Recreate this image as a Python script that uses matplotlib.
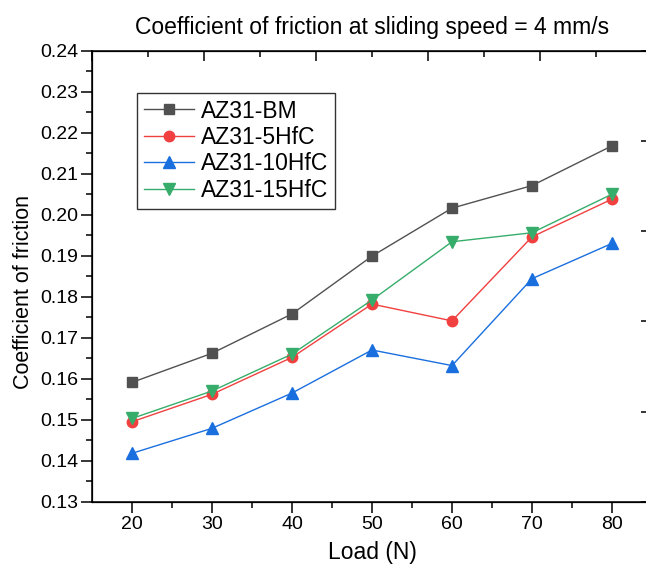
import numpy as np
import matplotlib
matplotlib.use('Agg')
import matplotlib.pyplot as plt

plt.rcParams['font.family'] = ['Liberation Sans', 'DejaVu Sans']

load = [20, 30, 40, 50, 60, 70, 80]

cof_bm = [0.1591, 0.1662, 0.1758, 0.1899, 0.2016, 0.2071, 0.2168]
cof_5hfc = [0.1495, 0.1562, 0.1652, 0.1782, 0.1741, 0.1946, 0.2038]
cof_10hfc = [0.1418, 0.1479, 0.1565, 0.1670, 0.1632, 0.1844, 0.1930]
cof_15hfc = [0.1503, 0.1570, 0.1660, 0.1792, 0.1934, 0.1956, 0.2050]

series = [
    ('AZ31-BM', cof_bm, '#515151', 's', 6.5),
    ('AZ31-5HfC', cof_5hfc, '#F14040', 'o', 7.5),
    ('AZ31-10HfC', cof_10hfc, '#1A6FDF', '^', 8.5),
    ('AZ31-15HfC', cof_15hfc, '#37AD6B', 'v', 8.5),
]

W, H = 646, 573
fig = plt.figure(figsize=(W / 100, H / 100), dpi=100)
# right spine sits just past the canvas edge
ax = fig.add_axes([92 / W, 1 - 501.7 / H, 560 / W, 451 / H])

for name, vals, col, mk, ms in series:
    ax.plot(load, vals, color=col, marker=mk, markersize=ms, lw=1.0,
            label=name)

ax.set_xlim(15, 85)
ax.set_ylim(0.13, 0.24)
ax.set_xticks(load)
ax.set_xticks(np.arange(25, 85, 10), minor=True)
ax.set_yticks(np.arange(0.13, 0.2401, 0.01))
ax.set_yticks(np.arange(0.135, 0.24, 0.01), minor=True)
ax.set_yticklabels([f'{v:.2f}' for v in np.arange(0.13, 0.2401, 0.01)])
ax.tick_params(which='major', direction='out', length=8, width=1.1,
               labelsize=14, pad=2, top=False, right=False)
ax.tick_params(which='minor', direction='out', length=4, width=1.1,
               top=False, right=False)
for s in ax.spines.values():
    s.set_linewidth(1.1)

ax.set_xlabel('Load (N)', fontsize=16.5, labelpad=6)
ax.set_ylabel('Coefficient of friction', fontsize=15.5)
ax.yaxis.set_label_coords(-0.104, 0.465)
ax.set_title('Coefficient of friction at sliding speed = 4 mm/s',
             fontsize=16.5, pad=12)

# secondary top/right scales with their own tick spacing
top = ax.twiny()
top.set_xlim(0, 5)
top.set_xticks(np.arange(0, 6))
top.set_xticks(np.arange(0.5, 5, 1), minor=True)
top.tick_params(which='major', direction='in', length=7, width=1.1,
                labeltop=False)
top.tick_params(which='minor', direction='in', length=4, width=1.1)
right = ax.twinx()
right.set_ylim(0, 5)
right.set_yticks(np.arange(0, 6))
right.tick_params(direction='in', length=8, width=1.1, labelright=False)

leg = ax.legend(loc='upper left', bbox_to_anchor=(0.080, 0.907), fontsize=16.5,
                frameon=True, fancybox=False, edgecolor='black',
                borderpad=0.3, labelspacing=0.15, handlelength=2.2,
                handletextpad=0.3, borderaxespad=0)
leg.get_frame().set_linewidth(1.0)

fig.savefig('out.png', dpi=100)
